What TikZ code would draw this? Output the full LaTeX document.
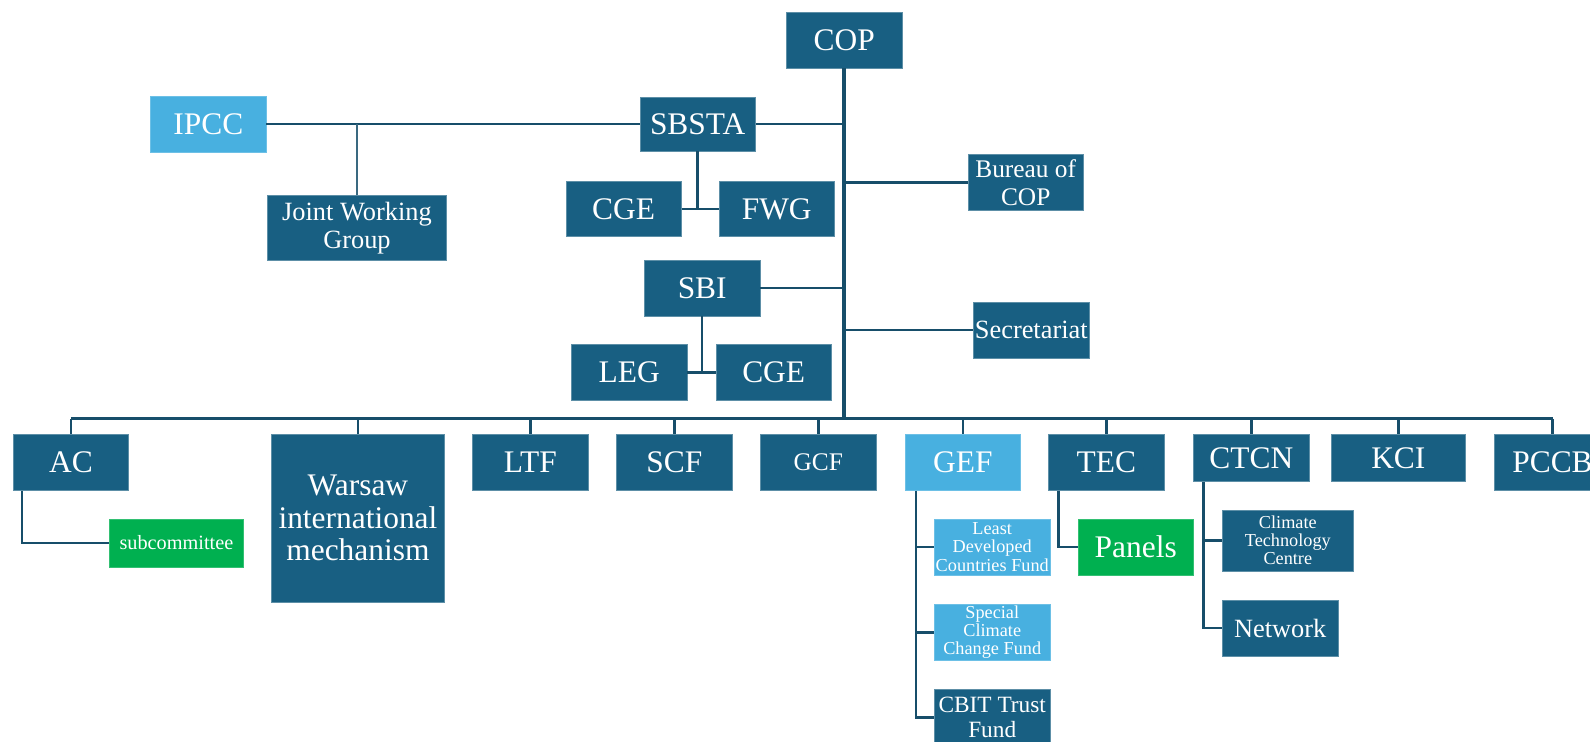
\documentclass[tikz,border=0pt]{standalone}
\usepackage{fontspec}
\setmainfont{Liberation Serif}
\definecolor{unitblue}{RGB}{24,95,130}
\definecolor{skyblue}{RGB}{72,176,224}
\definecolor{panelgreen}{RGB}{0,176,80}
\definecolor{linkblue}{RGB}{23,78,106}
\tikzset{
 unit/.style={rectangle,fill=unitblue,draw=unitblue!70!white,line width=.6pt,text=white,align=center,inner sep=0,minimum width=114pt,minimum height=55pt,font=\fontsize{31}{32}\selectfont},
 skyunit/.style={unit,fill=skyblue,draw=skyblue!80!white},
 greenunit/.style={unit,fill=panelgreen,draw=panelgreen!80!white},
 midtext/.style={font=\fontsize{26}{27}\selectfont},
 smalltext/.style={font=\fontsize{18}{18}\selectfont},
 link/.style={draw=linkblue,line width=2.5pt},
 bus/.style={draw=linkblue,line width=3pt},
 trunk/.style={draw=linkblue,line width=4pt},
 thinlink/.style={draw=linkblue!85!white,line width=1.5pt}
}
\begin{document}
\begin{tikzpicture}[x=1pt,y=-1pt]
\clip (0,0) rectangle (1568,731);
\node[unit] (cop) at (832.5,39.5) {COP};
\node[skyunit] (ipcc) at (205.5,122.5) {IPCC};
\node[unit,minimum height=53pt] (sbsta) at (688,122.5) {SBSTA};
\node[unit,midtext,minimum width=176pt,minimum height=64pt] (jwg) at (352,225) {Joint Working\\Group};
\node[unit] (cgea) at (615,206) {CGE};
\node[unit] (fwg) at (766,206) {FWG};
\node[unit,font=\fontsize{25}{28}\selectfont] (bureau) at (1011.5,180) {Bureau of\\COP};
\node[unit] (sbi) at (692.5,284) {SBI};
\node[unit] (leg) at (620.5,367.5) {LEG};
\node[unit] (cgeb) at (763,367.5) {CGE};
\node[unit,midtext] (secretariat) at (1017,325.5) {Secretariat};
\coordinate (bus) at (832.5,413);
\node[unit] (ac) at (70,456) {AC};
\node[unit,minimum width=170pt,minimum height=166pt] (warsaw) at (353,511) {Warsaw\\international\\mechanism};
\node[unit] (ltf) at (523,456) {LTF};
\node[unit] (scf) at (665,456) {SCF};
\node[unit,font=\fontsize{25}{26}\selectfont] (gcf) at (807,456) {GCF};
\node[skyunit] (gef) at (949.5,456) {GEF};
\node[unit] (tec) at (1091,456) {TEC};
\node[unit,minimum height=47pt] (ctcn) at (1234,451.5) {CTCN};
\node[unit,minimum width=132pt,minimum height=47pt] (kci) at (1379,451.5) {KCI};
\node[unit] (pccb) at (1531,456) {PCCB};
\node[greenunit,font=\fontsize{20}{20}\selectfont,minimum width=132pt,minimum height=47pt] (subcommittee) at (174,535.5) {subcommittee};
\node[skyunit,smalltext] (ldcf) at (978.5,539.5) {Least\\Developed\\Countries Fund};
\node[skyunit,smalltext] (sccf) at (978.5,623.5) {Special\\Climate\\Change Fund};
\node[unit,font=\fontsize{23}{24}\selectfont] (cbit) at (978.5,707.5) {CBIT Trust\\Fund};
\node[greenunit] (panels) at (1120,539.5) {Panels};
\node[unit,smalltext,minimum width=130pt,minimum height=60pt] (ctc) at (1270,533) {Climate\\Technology\\Centre};
\node[unit,midtext,minimum width=115pt] (network) at (1262.5,619.5) {Network};
\coordinate (acdrop) at ([xshift=9pt]ac.south west);
\coordinate (gefdrop) at ([xshift=11pt]gef.south west);
\coordinate (tecdrop) at ([xshift=10pt]tec.south west);
\coordinate (ctcndrop) at ([xshift=10pt]ctcn.south west);
\draw[trunk] (cop.south) -- (cop.south |- bus);
\draw[bus] (ac.north |- bus) -- (pccb.north |- bus);
\foreach \u in {ac,warsaw,ltf,scf,gcf,gef,tec,ctcn,kci,pccb}
  \draw[link] (\u.north |- bus) -- (\u.north);
\draw[link] (ipcc.east) -- (sbsta.west);
\draw[thinlink] (jwg.north) -- (jwg.north |- ipcc.east);
\draw[link] (sbsta.east) -- (sbsta.east -| cop.south);
\draw[link] (sbsta.south) -- (sbsta.south |- cgea.east);
\draw[link] (cgea.east) -- (fwg.west);
\draw[link] (bureau.west -| cop.south) -- (bureau.west);
\draw[link] (sbi.east) -- (sbi.east -| cop.south);
\draw[link] (sbi.south) -- (sbi.south |- leg.east);
\draw[link] (leg.east) -- (cgeb.west);
\draw[link] (secretariat.west -| cop.south) -- (secretariat.west);
\draw[link] (acdrop) |- (subcommittee.west);
\draw[link] (gefdrop) |- (cbit.west);
\draw[link] (gefdrop |- ldcf.west) -- (ldcf.west);
\draw[link] (gefdrop |- sccf.west) -- (sccf.west);
\draw[link] (tecdrop) |- (panels.west);
\draw[link] (ctcndrop) |- (network.west);
\draw[link] (ctcndrop |- ctc.west) -- (ctc.west);
\end{tikzpicture}
\end{document}
